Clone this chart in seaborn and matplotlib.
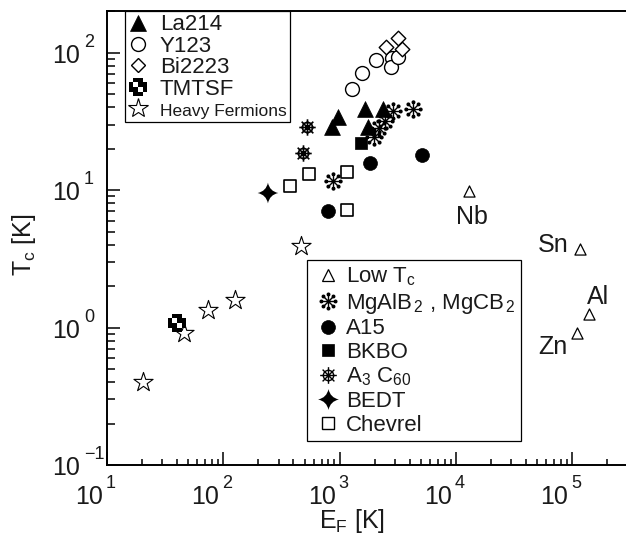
import numpy as np
import pandas as pd
import matplotlib
matplotlib.use("Agg")
import matplotlib.pyplot as plt
from matplotlib.path import Path
from matplotlib.lines import Line2D
from matplotlib.ticker import NullFormatter
from matplotlib.transforms import blended_transform_factory, offset_copy
import seaborn as sns

# Fermi energy E_F [K] and superconducting T_c [K] for each family
la214_ef = [968, 860, 1653, 2361, 1755]
la214_tc = [34.0, 28.8, 38.9, 38.9, 28.8]
y123_ef = [1278, 1558, 2056, 2823, 2767, 3178]
y123_tc = [54.4, 71.1, 88.5, 91.5, 78.7, 93.1]
bi2223_ef = [2506, 3178, 3441]
bi2223_tc = [110, 128, 106]
tmtsf_ef = [40.0]
tmtsf_tc = [1.08]
heavy_ef = [20.4, 45.9, 73.9, 126, 466]
heavy_tc = [0.40, 0.91, 1.34, 1.59, 3.92]
lowtc_names = ["Nb", "Sn", "Al", "Zn"]
lowtc_ef = [12960, 116700, 139500, 110000]
lowtc_tc = [9.85, 3.73, 1.25, 0.91]
mgb2_ef = [877, 2878, 4276, 2455, 2182, 1976]
mgb2_tc = [11.6, 37.6, 38.9, 31.8, 28.3, 24.3]
a15_ef = [795, 1826, 5110]
a15_tc = [7.05, 15.8, 18.0]
bkbo_ef = [1528]
bkbo_tc = [22.0]
a3c60_ef = [484, 524]
a3c60_tc = [18.6, 28.8]
bedt_ef = [242]
bedt_tc = [9.53]
chevrel_ef = [375, 546, 1158, 1158]
chevrel_tc = [10.7, 13.1, 13.5, 7.16]

x_ticks = [1e1, 1e2, 1e3, 1e4, 1e5]
x_tick_exp = ["1", "2", "3", "4", "5"]
y_ticks = [1e-1, 1e0, 1e1, 1e2]
y_tick_exp = ["\u22121", "0", "1", "2"]

sns.set_style("ticks")
plt.rcParams["font.family"] = ["Liberation Sans", "DejaVu Sans"]
plt.rcParams["mathtext.fontset"] = "custom"
plt.rcParams["mathtext.rm"] = "Liberation Sans"
plt.rcParams["mathtext.it"] = "Liberation Sans:italic"
plt.rcParams["mathtext.bf"] = "Liberation Sans:bold"
plt.rcParams["mathtext.sf"] = "Liberation Sans"

INK = "#1a1a1a"


# ---- custom marker shapes ----
def checker_cross():
    outer = [(-1, -2), (1, -2), (1, -1), (2, -1), (2, 1), (1, 1), (1, 2),
             (-1, 2), (-1, 1), (-2, 1), (-2, -1), (-1, -1), (-1, -2)]
    hole1 = [(-1, 0), (-1, 1), (0, 1), (0, 0), (-1, 0)]
    hole2 = [(0, -1), (0, 0), (1, 0), (1, -1), (0, -1)]
    verts, codes = [], []
    for poly in (outer, hole1, hole2):
        verts += poly
        codes += [Path.MOVETO] + [Path.LINETO] * (len(poly) - 2) + [Path.CLOSEPOLY]
    return Path(verts, codes)


def dotted_asterisk(n=8, r_line=0.82, r_dot=0.15):
    parts = []
    for k in range(n):
        a = np.pi / 2 + 2 * np.pi * k / n
        c, s = np.cos(a), np.sin(a)
        parts.append(Path([(0, 0), (r_line * c, r_line * s)], [Path.MOVETO, Path.LINETO]))
        parts.append(Path.circle((0.85 * c, 0.85 * s), r_dot))
    return Path.make_compound_path(*parts)


def spoked_wheel(n=8):
    parts = [Path.circle((0, 0), 0.62)]
    for k in range(n):
        a = 2 * np.pi * k / n
        parts.append(Path([(0, 0), (np.cos(a), np.sin(a))], [Path.MOVETO, Path.LINETO]))
    return Path.make_compound_path(*parts)


def four_point_star(k=0.17):
    verts = [(0, 1), (k, k), (1, 0), (k, -k), (0, -1), (-k, -k), (-1, 0), (-k, k), (0, 1), (0, 1)]
    codes = [Path.MOVETO] + [Path.CURVE3] * 8 + [Path.CLOSEPOLY]
    return Path(verts, codes)


CROSS = checker_cross()
ASTER = dotted_asterisk()
WHEEL = spoked_wheel()
STAR4 = four_point_star()

fig = plt.figure(figsize=(6.26, 5.36), dpi=100)
ax = fig.add_axes([107 / 626, 71 / 536, 543 / 626, 454 / 536])


def draw(ef, tc, marker, size, face, lw=1.0, edge="black"):
    df = pd.DataFrame({"E_F": ef, "T_c": tc})
    sns.scatterplot(data=df, x="E_F", y="T_c", ax=ax, marker=marker, s=size,
                    color="black", facecolor=face, edgecolor=edge,
                    linewidth=lw, zorder=3, legend=False)


draw(heavy_ef, heavy_tc, "*", 210, "white", 0.8)
draw(tmtsf_ef, tmtsf_tc, CROSS, 170, "black", 0, "none")
draw(chevrel_ef, chevrel_tc, "s", 85, "white", 1.2)
draw(bedt_ef, bedt_tc, STAR4, 220, "black", 0, "none")
draw(a3c60_ef, a3c60_tc, WHEEL, 140, "white", 1.2)
draw(a15_ef, a15_tc, "o", 100, "black", 0.5)
draw(bkbo_ef, bkbo_tc, "s", 85, "black", 0.5)
draw(la214_ef, la214_tc, "^", 130, "black", 0.5)
draw(mgb2_ef, mgb2_tc, ASTER, 150, "black", 1.0)
draw(y123_ef, y123_tc, "o", 100, "white", 1.0)
draw(bi2223_ef, bi2223_tc, "D", 55, "white", 1.0)
draw(lowtc_ef, lowtc_tc, "^", 64, "white", 0.9)

# element labels for the conventional superconductors
label_offsets = {"Nb": (2, -19), "Sn": (-19.5, 3), "Al": (6.5, 12.5), "Zn": (-17.5, -10)}
for name, xe, yt in zip(lowtc_names, lowtc_ef, lowtc_tc):
    ax.annotate(name, (xe, yt), xytext=label_offsets[name], textcoords="offset points",
                ha="center", va="center", fontsize=18, color=INK)

ax.set_xscale("log")
ax.set_yscale("log")
ax.set_xticks(x_ticks)
ax.set_yticks(y_ticks)
for axis in (ax.xaxis, ax.yaxis):
    axis.set_major_formatter(NullFormatter())
    axis.set_minor_formatter(NullFormatter())
ax.set_xlim(10, 10 ** (1 + 543 / 116.3))
ax.set_ylim(0.1, 10 ** (2 + 41.7 / 137.4))

# power-of-ten tick labels with a large raised exponent
bx = blended_transform_factory(ax.transData, ax.transAxes)
for t, e in zip(x_ticks, x_tick_exp):
    ax.text(t, 0, "10", transform=offset_copy(bx, fig, x=-4, y=-39, units="dots"),
            ha="right", va="baseline", fontsize=18, color=INK)
    ax.text(t, 0, e, transform=offset_copy(bx, fig, x=-1, y=-23, units="dots"),
            ha="left", va="baseline", fontsize=13, color=INK)
by = blended_transform_factory(ax.transAxes, ax.transData)
for t, e in zip(y_ticks, y_tick_exp):
    ax.text(0, t, "10", transform=offset_copy(by, fig, x=-27, y=-10.3, units="dots"),
            ha="right", va="baseline", fontsize=18, color=INK)
    ax.text(0, t, e, transform=offset_copy(by, fig, x=-23, y=5.7, units="dots"),
            ha="left", va="baseline", fontsize=13, color=INK)

for side in ("left", "bottom", "top"):
    ax.spines[side].set_linewidth(1.4)
    ax.spines[side].set_color("black")
ax.spines["right"].set_visible(False)

ax.tick_params(axis="both", which="both", direction="in", top=False, right=False,
               width=1.1, color="black")
ax.tick_params(axis="x", which="major", length=9.3)
ax.tick_params(axis="x", which="minor", length=4.3)
ax.tick_params(axis="y", which="major", length=9.3)
ax.tick_params(axis="y", which="minor", length=5.4)

ax.set_xlabel(r"$\mathregular{E_F}$ [K]", fontsize=18, color=INK)
ax.set_ylabel(r"$\mathregular{T_c}$ [K]", fontsize=18, color=INK)
ax.xaxis.set_label_coords(0.452, -0.093)
ax.yaxis.set_label_coords(-0.127, 0.485)

# legends
h1 = [
    Line2D([], [], ls="none", marker="^", ms=11, mfc="black", mec="black", mew=0.5),
    Line2D([], [], ls="none", marker="o", ms=10, mfc="white", mec="black", mew=1.0),
    Line2D([], [], ls="none", marker="D", ms=7.5, mfc="white", mec="black", mew=1.0),
    Line2D([], [], ls="none", marker=CROSS, ms=13, mfc="black", mec="none", mew=0),
    Line2D([], [], ls="none", marker="*", ms=15, mfc="white", mec="black", mew=0.8),
]
l1 = ["La214", "Y123", "Bi2223", "TMTSF", "Heavy Fermions"]
leg1 = ax.legend(h1, l1, loc="upper left", bbox_to_anchor=(18 / 543, 1.0), borderaxespad=0,
                 frameon=True, fancybox=False, edgecolor="black", framealpha=1,
                 fontsize=16, handlelength=0.87, handletextpad=0.55, borderpad=0.15,
                 labelspacing=0.02, labelcolor=INK)
leg1.get_frame().set_linewidth(0.9)
leg1.get_texts()[-1].set_fontsize(12.5)
ax.add_artist(leg1)

h2 = [
    Line2D([], [], ls="none", marker="^", ms=8, mfc="white", mec="black", mew=0.9),
    Line2D([], [], ls="none", marker=ASTER, ms=12, mfc="black", mec="black", mew=1.0),
    Line2D([], [], ls="none", marker="o", ms=10, mfc="black", mec="black", mew=0.5),
    Line2D([], [], ls="none", marker="s", ms=9, mfc="black", mec="black", mew=0.5),
    Line2D([], [], ls="none", marker=WHEEL, ms=12, mfc="white", mec="black", mew=1.0),
    Line2D([], [], ls="none", marker=STAR4, ms=15, mfc="black", mec="none", mew=0),
    Line2D([], [], ls="none", marker="s", ms=9, mfc="white", mec="black", mew=1.0),
]
l2 = [r"Low T$_\mathregular{c}$",
      r"MgAlB$_\mathregular{\,2}$ , MgCB$_\mathregular{\,2}$", "A15",
      "BKBO", r"A$_\mathregular{3}$ C$_\mathregular{60}$", "BEDT", "Chevrel"]
leg2 = ax.legend(h2, l2, loc="upper left", bbox_to_anchor=(200 / 543, 205 / 454), borderaxespad=0,
                 frameon=True, fancybox=False, edgecolor="black", framealpha=1,
                 fontsize=16, handlelength=1.36, handletextpad=0.15, borderpad=0.25,
                 labelspacing=0.12, labelcolor=INK)
leg2.get_frame().set_linewidth(0.9)

fig.savefig("out.png", dpi=100)
